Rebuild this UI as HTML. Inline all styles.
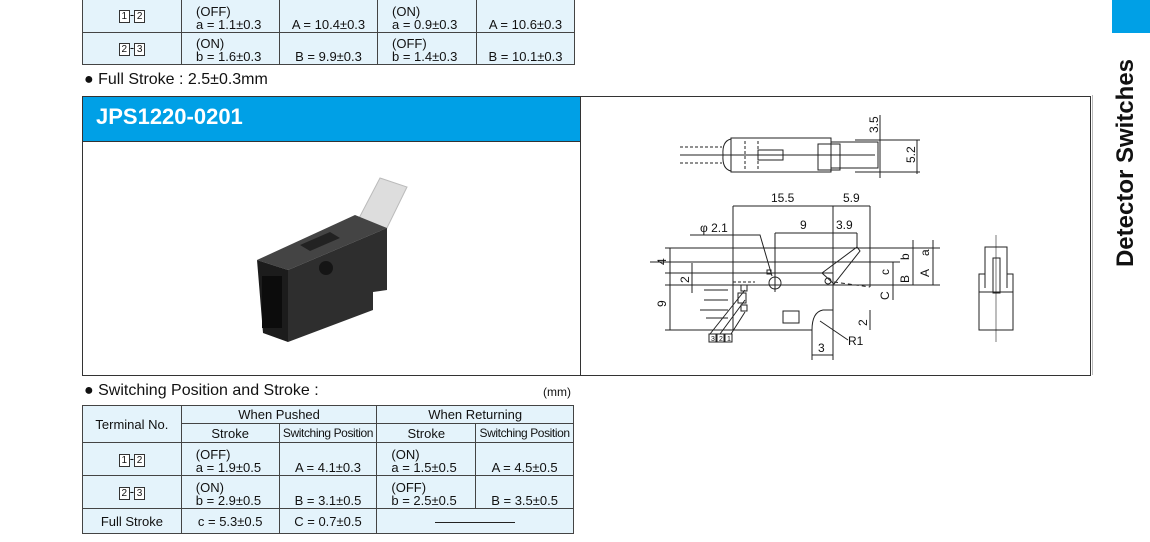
<!DOCTYPE html>
<html><head><meta charset="utf-8"><style>
body{margin:0;width:1150px;height:542px;background:#fff;position:relative;overflow:hidden;font-family:"Liberation Sans",sans-serif;color:#111}
table{position:absolute;border-collapse:collapse;font-size:13px;background:#e4f3fb}
td{border:1.5px solid #444;padding:0 0 1px 14px;line-height:13px;vertical-align:bottom}
td.c{text-align:center;padding:0;vertical-align:middle}
td.b{text-align:center;padding:0 0 1px 0;vertical-align:bottom}
.k{display:inline-block;border:1px solid #333;width:9px;height:11px;font-size:10px;line-height:11px;text-align:center;background:#fff}
.n{font-size:12px;letter-spacing:-.4px}
.abs{position:absolute}
</style></head><body>
<table style="left:82px;top:-2px;width:493px">
<colgroup><col style="width:99px"><col style="width:98px"><col style="width:98px"><col style="width:99px"><col style="width:98px"></colgroup>
<tr style="height:34px"><td class="c"><span class="k">1</span>-<span class="k">2</span></td><td>(OFF)<br>a = 1.1±0.3</td><td class="b">A = 10.4±0.3</td><td>(ON)<br>a = 0.9±0.3</td><td class="b">A = 10.6±0.3</td></tr>
<tr style="height:32px"><td class="c"><span class="k">2</span>-<span class="k">3</span></td><td>(ON)<br>b = 1.6±0.3</td><td class="b">B = 9.9±0.3</td><td>(OFF)<br>b = 1.4±0.3</td><td class="b">B = 10.1±0.3</td></tr>
</table>
<div class="abs" style="left:84px;top:71px;font-size:16px">● Full Stroke : 2.5±0.3mm</div>
<div class="abs" style="left:82px;top:96px;width:1007px;height:278px;border:1px solid #333"></div>
<div class="abs" style="left:82px;top:96px;width:498px;height:44px;background:#00a0e6;border:1px solid #333;border-right:none"></div>
<div class="abs" style="left:580px;top:96px;width:1px;height:279px;background:#333"></div>
<div class="abs" style="left:96px;top:104px;color:#fff;font-weight:bold;font-size:22px">JPS1220-0201</div>
<div class="abs" style="left:1112px;top:0;width:38px;height:33px;background:#00a0e6"></div>
<div class="abs" style="left:1126px;top:163px;transform:translate(-50%,-50%) rotate(-90deg);font-weight:bold;font-size:24px;white-space:nowrap">Detector Switches</div>
<div class="abs" style="left:1092px;top:95px;width:1px;height:280px;background:#bbb"></div>

<svg class="abs" style="left:0;top:0" width="1150" height="542" viewBox="0 0 1150 542">
<polygon points="357,222 380,178 407,187 385,232" fill="#ddd" stroke="#bbb"/>
<polygon points="257,260 355,215 387,228 288,270" fill="#444"/>
<polygon points="257,260 288,270 288,342 263,333" fill="#1c1c1c"/>
<polygon points="288,270 387,228 387,290 373,292 373,310 288,342" fill="#2e2e2e"/>
<rect x="262" y="276" width="20" height="52" fill="#0c0c0c"/>
<circle cx="326" cy="268" r="7" fill="#151515"/>
<polygon points="300,245 330,232 340,238 310,251" fill="#222"/>
<g stroke="#222" stroke-width="1" fill="none" font-family="Liberation Sans" font-size="12">
<rect x="731" y="138" width="100" height="34"/>
<rect x="831" y="142" width="47" height="26"/>
<rect x="818" y="144" width="22" height="26"/>
<path d="M731,139 Q722,141 723,155 Q722,169 731,171"/>
<path d="M680,147 H722 M680,163 H722" stroke-dasharray="3,2"/>
<path d="M745,141 V169 M758,141 V169" stroke-dasharray="3,2"/>
<rect x="758" y="150" width="25" height="10"/>
<path d="M680,155 H875 M855,140 H920 M855,172 H920 M880,115 V178 M917,140 V174"/>
<path d="M733,273 H833 V310 H823 Q812,312 812,330 H733 Z"/>
<polygon points="822,273 857,247 860,251 834,284"/>
<path d="M834,282 L870,287" stroke-dasharray="4,3"/>
<path d="M665,248 H940 M665,285 H940 M665,273 H733 M665,330 H733 M650,262 H900 M833,206 V340 M733,206 V273 M870,206 V287 M775,233 V292 M857,233 V247"/>
<path d="M733,206 H870 M775,233 H857 M670,248 V330 M692,263 V293 M893,262 V300 M913,240 V285 M933,240 V285 M870,310 V330 M812,330 V360 M812,355 H833 M833,330 V360"/>
<circle cx="775" cy="283" r="6"/>
<circle cx="828" cy="281" r="3"/>
<rect x="767" y="270" width="4" height="4"/>
<rect x="783" y="311" width="16" height="12"/>
<path d="M690,235 H760 L772,276 M848,340 L820,321"/>
<path d="M733,282 H755" stroke-dasharray="3,2"/>
<path d="M704,290 H728 M704,300 H728 M700,310 H728 M706,318 H728"/>
<rect x="741" y="285" width="6" height="6"/><rect x="741" y="305" width="6" height="6"/><rect x="738" y="293" width="8" height="10"/>
<path d="M710,334 L745,290 M720,334 L745,300 M731,334 L745,312"/>
<rect x="709" y="334" width="7" height="8"/><rect x="717" y="334" width="7" height="8"/><rect x="725" y="334" width="7" height="8"/>
<path d="M985,247 H1007 V274 H1013 V330 H979 V274 H985 Z M979,292 H1013 M985,274 V288 M1007,274 V288"/>
<rect x="993" y="258" width="7" height="35"/>
<path d="M996,235 V342" stroke-width=".6"/>
</g>
<g font-family="Liberation Sans" font-size="12" fill="#111">
<text x="771" y="202">15.5</text><text x="843" y="202">5.9</text>
<text x="800" y="229">9</text><text x="836" y="229">3.9</text>
<text x="700" y="232">φ 2.1</text>
<text x="848" y="345">R1</text><text x="818" y="352">3</text>
<text transform="translate(878,133) rotate(-90)">3.5</text>
<text transform="translate(915,163) rotate(-90)">5.2</text>
<text transform="translate(666,265) rotate(-90)">4</text>
<text transform="translate(666,307) rotate(-90)">9</text>
<text transform="translate(689,283) rotate(-90)">2</text>
<text transform="translate(889,275) rotate(-90)">c</text>
<text transform="translate(909,260) rotate(-90)">b</text>
<text transform="translate(929,256) rotate(-90)">a</text>
<text transform="translate(909,283) rotate(-90)">B</text>
<text transform="translate(929,277) rotate(-90)">A</text>
<text transform="translate(889,300) rotate(-90)">C</text>
<text transform="translate(867,326) rotate(-90)">2</text>
<text x="711" y="341" font-size="7">3</text><text x="719" y="341" font-size="7">2</text><text x="727" y="341" font-size="7">1</text>
</g>
</svg>

<div class="abs" style="left:84px;top:382px;font-size:16px">● Switching Position and Stroke :</div>
<div class="abs" style="left:543px;top:385px;font-size:12px">(mm)</div>
<table style="left:82px;top:405px;width:492px">
<colgroup><col style="width:99px"><col style="width:98px"><col style="width:98px"><col style="width:99px"><col style="width:98px"></colgroup>
<tr style="height:18px"><td class="c" rowspan="2">Terminal No.</td><td class="c" colspan="2">When Pushed</td><td class="c" colspan="2">When Returning</td></tr>
<tr style="height:19px"><td class="c">Stroke</td><td class="c n">Switching Position</td><td class="c">Stroke</td><td class="c n">Switching Position</td></tr>
<tr style="height:33px"><td class="c"><span class="k">1</span>-<span class="k">2</span></td><td>(OFF)<br>a = 1.9±0.5</td><td class="b">A = 4.1±0.3</td><td>(ON)<br>a = 1.5±0.5</td><td class="b">A = 4.5±0.5</td></tr>
<tr style="height:33px"><td class="c"><span class="k">2</span>-<span class="k">3</span></td><td>(ON)<br>b = 2.9±0.5</td><td class="b">B = 3.1±0.5</td><td>(OFF)<br>b = 2.5±0.5</td><td class="b">B = 3.5±0.5</td></tr>
<tr style="height:25px"><td class="c">Full Stroke</td><td class="c">c = 5.3±0.5</td><td class="c">C = 0.7±0.5</td><td class="c" colspan="2"><span style="display:inline-block;width:80px;border-top:1px solid #222;vertical-align:middle"></span></td></tr>
</table>
</body></html>
